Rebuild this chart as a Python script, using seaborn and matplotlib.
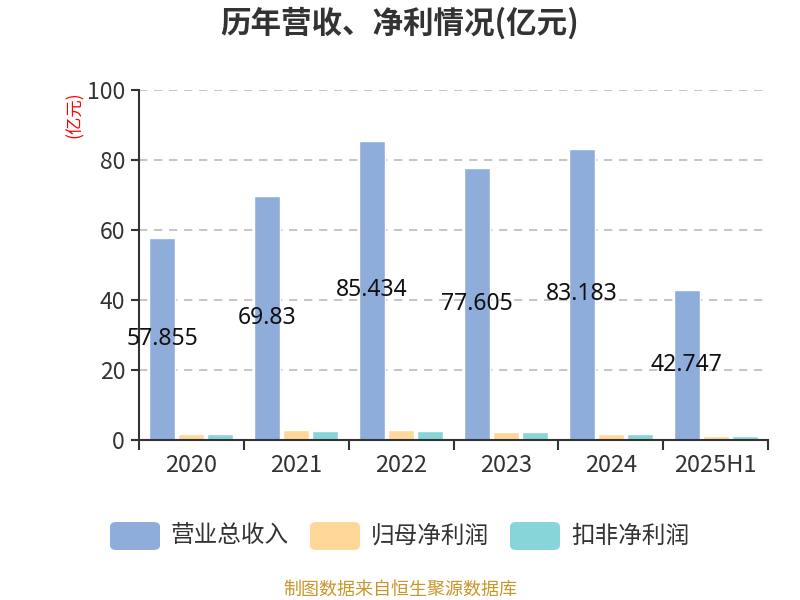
import matplotlib
matplotlib.use("Agg")
import matplotlib.pyplot as plt
from matplotlib.patches import FancyBboxPatch
import seaborn as sns
import pandas as pd

categories = ["2020", "2021", "2022", "2023", "2024", "2025H1"]
series_names = ["营业总收入", "归母净利润", "扣非净利润"]
revenue = [57.855, 69.83, 85.434, 77.605, 83.183, 42.747]
net_profit = [1.7, 2.8, 2.9, 2.3, 1.8, 1.2]
deducted_profit = [1.7, 2.7, 2.6, 2.2, 1.8, 1.1]
yticks = [0, 20, 40, 60, 80, 100]
colors = ["#8EADDB", "#FFD899", "#88D5D9"]

sns.set_theme(style="white")
plt.rcParams["font.family"] = ["Noto Sans CJK SC", "DejaVu Sans"]

df = pd.DataFrame({
    "cat": categories * 3,
    "series": [series_names[0]] * 6 + [series_names[1]] * 6 + [series_names[2]] * 6,
    "value": revenue + net_profit + deducted_profit,
})

fig = plt.figure(figsize=(8, 6), dpi=100)
ax = fig.add_axes([139 / 800, 1 - 440 / 600, (768 - 139) / 800, 350 / 600])

sns.barplot(data=df, x="cat", y="value", hue="series", order=categories,
            hue_order=series_names, palette=colors, width=0.83, gap=0.1,
            saturation=1, ax=ax, legend=False, errorbar=None)

ax.set_xlim(-0.5, 5.5)
ax.set_ylim(0, 100)
ax.set_yticks(yticks)
ax.set_yticklabels([str(t) for t in yticks], fontsize=16.5, color="#333333")
ax.set_xticks(range(len(categories)))
ax.set_xticklabels(categories, fontsize=17, color="#333333")
ax.set_xlabel("")
ax.set_ylabel("")
ax.tick_params(axis="x", length=0, pad=10)
ax.tick_params(axis="y", length=6, width=1.5, color="#333333", pad=4, direction="out", left=True)
# category boundary ticks on x axis
ax.set_xticks([i + 0.5 for i in range(-1, len(categories))], minor=True)
ax.tick_params(axis="x", which="minor", length=7, width=1.5, color="#333333", bottom=True)

for s in ["top", "right"]:
    ax.spines[s].set_visible(False)
for s in ["left", "bottom"]:
    ax.spines[s].set_color("#333333")
    ax.spines[s].set_linewidth(1.5)

for t in yticks[1:]:
    ax.axhline(t, color="#bbbbbb", lw=1.2, ls=(0, (5, 4)), zorder=0)

# value labels for revenue bars
slot = 0.83 / 3
for i, v in enumerate(revenue):
    ax.text(i - slot, v / 2, f"{v:g}", ha="center", va="center",
            fontsize=16.5, color="#111111", family=["Noto Sans", "DejaVu Sans"])

fig.text(75 / 800, 1 - 115 / 600, "(亿元)", rotation=90, color="red",
         fontsize=12.5, ha="center", va="center")

fig.text(0.5, 1 - 23 / 600, "历年营收、净利情况(亿元)", ha="center", va="center",
         fontsize=22, fontweight="bold", color="#333333")

# legend
leg_x = [110, 310, 510]
for x0, name, c in zip(leg_x, series_names, colors):
    p = FancyBboxPatch((x0 / 800, 1 - 550 / 600), 50 / 800, 28 / 600,
                       boxstyle="round,pad=0,rounding_size=0.008",
                       transform=fig.transFigure, facecolor=c, edgecolor="none")
    fig.patches.append(p)
    fig.text((x0 + 61) / 800, 1 - 536 / 600, name, ha="left", va="center",
             fontsize=17, color="#333333")

fig.text(0.5, 1 - 590 / 600, "制图数据来自恒生聚源数据库", ha="center", va="center",
         fontsize=13, color="#C8962A")

fig.savefig("out.png", dpi=100)
